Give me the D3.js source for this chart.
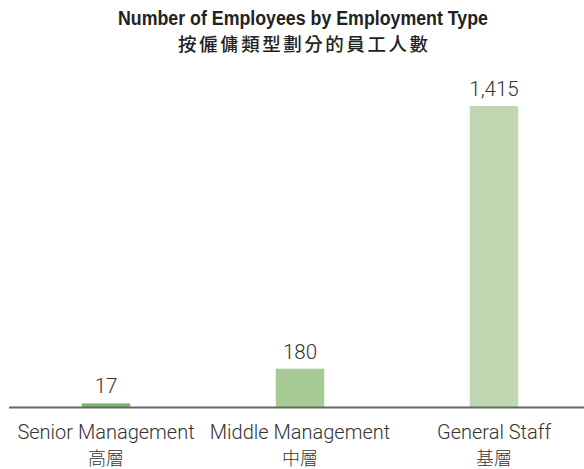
<!DOCTYPE html>
<html>
<head>
<meta charset="utf-8">
<script src="https://cdn.jsdelivr.net/npm/d3@7"></script>
<style>
html,body{margin:0;padding:0;background:#fff;}
svg{display:block;}
</style>
</head>
<body>
<svg id="chart" width="584" height="469"></svg>
<script>
const categoriesEn = ["Senior Management", "Middle Management", "General Staff"];
const categoriesZh = ["高層", "中層", "基層"];
const values = [17, 180, 1415];
const valueLabels = ["17", "180", "1,415"];
const colors = ["#7cb868", "#a8cb95", "#bfd8b1"];
const titleLines = ["Number of Employees by Employment Type", "按僱傭類型劃分的員工人數"];

const svg = d3.select("#chart");
const baseY = 407;
const topY = 106;

const x = d3.scaleBand().domain(d3.range(values.length)).range([9, 591]).paddingInner(0.75).paddingOuter(0.375);
const y = d3.scaleLinear().domain([0, 1415]).range([baseY, topY]);

const lf = "Roboto,'Noto Sans CJK TC',sans-serif";

svg.append("text")
  .attr("x", 303).attr("y", 24.5)
  .attr("text-anchor","middle")
  .attr("font-family", "'Liberation Sans',Arial,sans-serif")
  .attr("font-weight","bold")
  .attr("font-size", 19.5)
  .attr("textLength", 370)
  .attr("lengthAdjust","spacingAndGlyphs")
  .attr("fill","#222")
  .text(titleLines[0]);

svg.append("text")
  .attr("x", 303).attr("y", 50.5)
  .attr("text-anchor","middle")
  .attr("font-family", "'Noto Sans CJK TC',sans-serif")
  .attr("font-weight", 500)
  .attr("font-size", 18.5)
  .attr("textLength", 250)
  .attr("lengthAdjust","spacing")
  .attr("fill","#222")
  .text(titleLines[1]);

svg.selectAll("rect.bar").data(values).enter().append("rect")
  .attr("class","bar")
  .attr("x",(d,i)=>x(i))
  .attr("width", x.bandwidth())
  .attr("y", d=>y(d))
  .attr("height", d=>baseY - y(d))
  .attr("fill",(d,i)=>colors[i]);

svg.selectAll("text.val").data(values).enter().append("text")
  .attr("class","val")
  .attr("x",(d,i)=>x(i)+x.bandwidth()/2)
  .attr("y", d=>y(d) - 10)
  .attr("text-anchor","middle")
  .attr("font-family", lf)
  .attr("font-weight", 300)
  .attr("font-size", 20.5)
  .attr("fill","#333")
  .text((d,i)=>valueLabels[i]);

svg.append("line")
  .attr("x1", 9).attr("x2", 584)
  .attr("y1", baseY+0.5).attr("y2", baseY+0.5)
  .attr("stroke","#666").attr("stroke-width",2);

const cat = svg.selectAll("g.cat").data(categoriesEn).enter().append("g").attr("class","cat");
cat.append("text")
  .attr("x",(d,i)=>x(i)+x.bandwidth()/2)
  .attr("y", 438.5)
  .attr("text-anchor","middle")
  .attr("font-family", lf).attr("font-weight",300).attr("font-size",20).attr("fill","#333")
  .text(d=>d);
cat.append("text")
  .attr("x",(d,i)=>x(i)+x.bandwidth()/2)
  .attr("y", 465)
  .attr("text-anchor","middle")
  .attr("font-family", "'Noto Sans CJK TC',sans-serif").attr("font-weight",300).attr("font-size",18).attr("fill","#333")
  .text((d,i)=>categoriesZh[i]);
</script>
</body>
</html>
